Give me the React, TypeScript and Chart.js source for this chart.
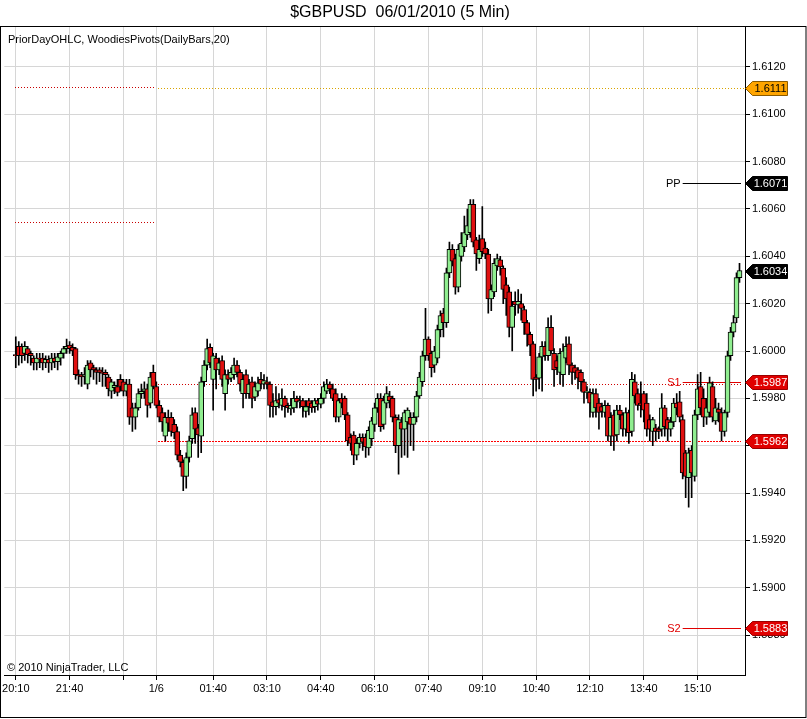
import { useEffect, useRef } from 'react';
import { Chart, registerables } from 'chart.js';

Chart.register(...registerables);

// ---- data (5-minute GBPUSD bars, 20:10 -> 16:15) ----
const opens = [
  1.59985, 1.6002, 1.6002, 1.5999, 1.6001, 1.5999, 1.5997, 1.5995, 1.5997, 1.5997,
  1.5995, 1.59965, 1.5995, 1.5997, 1.59955, 1.5997, 1.5999, 1.6001, 1.60025, 1.60015,
  1.6001, 1.599, 1.599, 1.59895, 1.5986, 1.5995, 1.5993, 1.5992, 1.5992, 1.5991,
  1.5991, 1.5989, 1.5983, 1.59845, 1.5985, 1.5988, 1.5987, 1.5983, 1.5986, 1.5976,
  1.5972, 1.5976, 1.5982, 1.5983, 1.5984, 1.5978, 1.5991, 1.5985, 1.5977, 1.5974,
  1.5964, 1.5972, 1.5972, 1.5969, 1.5966, 1.5956, 1.5953, 1.5947, 1.5955, 1.5963,
  1.5974, 1.59675, 1.5964, 1.5987, 1.5994, 1.60015, 1.5988, 1.5997, 1.5992, 1.5996,
  1.5982, 1.599, 1.59885, 1.599, 1.5994, 1.5991, 1.5982, 1.599, 1.5982, 1.5987,
  1.59805, 1.5983, 1.5988, 1.5986, 1.5987, 1.5986, 1.59785, 1.59765, 1.59795, 1.5977,
  1.598, 1.5977, 1.59755, 1.5976, 1.598, 1.59785, 1.5979, 1.59745, 1.5979, 1.5978,
  1.59765, 1.5979, 1.59775, 1.598, 1.5983, 1.5986, 1.5984, 1.5982, 1.5972, 1.598,
  1.598, 1.5973, 1.59635, 1.59645, 1.5956, 1.5961, 1.59635, 1.59635, 1.5959, 1.5963,
  1.5969, 1.5976, 1.598, 1.5969, 1.5978, 1.5981, 1.598, 1.5972, 1.596, 1.597,
  1.5967, 1.597, 1.5972, 1.5969, 1.5972, 1.5981, 1.5987, 1.5998, 1.6005, 1.5999,
  1.5994, 1.5997, 1.6009, 1.6016, 1.6012, 1.6033, 1.6043, 1.6039, 1.6027, 1.604,
  1.6044, 1.6049, 1.605, 1.6062, 1.6047, 1.6039, 1.60475, 1.60435, 1.6041, 1.6022,
  1.6025, 1.6036, 1.60385, 1.6035, 1.6028, 1.6025, 1.601, 1.6021, 1.60195, 1.602,
  1.60175, 1.6012, 1.6007, 1.6003, 1.5989, 1.59885, 1.59975, 1.6002, 1.5998, 1.601,
  1.5999, 1.5996, 1.5991, 1.599, 1.5997, 1.6003, 1.5994, 1.5993, 1.5992, 1.5991,
  1.5987, 1.59825, 1.59825, 1.5974, 1.5982, 1.5978, 1.59765, 1.5974, 1.5977, 1.5964,
  1.5973, 1.59645, 1.5975, 1.5973, 1.5967, 1.5974, 1.5966, 1.5987, 1.5982, 1.5978,
  1.5982, 1.5978, 1.5971, 1.5966, 1.59675, 1.5967, 1.5967, 1.5976, 1.5971, 1.5967,
  1.597, 1.5978, 1.59785, 1.5971, 1.5957, 1.59465, 1.5958, 1.5947, 1.5973, 1.5985,
  1.598, 1.5972, 1.5974, 1.5985, 1.59705, 1.59755, 1.5974, 1.5966, 1.5974, 1.5998,
  1.6008, 1.6014, 1.6031,
];

const highs = [
  1.6006, 1.6004, 1.6003, 1.6004, 1.6002, 1.6, 1.5998, 1.5999, 1.5999, 1.5999,
  1.5998, 1.5998, 1.5999, 1.5999, 1.5999, 1.6, 1.6002, 1.6005, 1.6004, 1.6003,
  1.60015, 1.5992, 1.5991, 1.5993, 1.5996, 1.5996, 1.5994, 1.5993, 1.5993, 1.5993,
  1.5992, 1.599, 1.5988, 1.5987, 1.5988, 1.599, 1.5988, 1.5988, 1.5988, 1.5978,
  1.5978, 1.5984, 1.5986, 1.5987, 1.5986, 1.5991, 1.5994, 1.5987, 1.5979, 1.5976,
  1.5974, 1.5975, 1.5974, 1.5971, 1.5968, 1.5958, 1.5954, 1.5957, 1.5964, 1.5976,
  1.5976, 1.5969, 1.5989, 1.5996, 1.6005, 1.6003, 1.5999, 1.5999, 1.5997, 1.5998,
  1.5992, 1.5992, 1.5993, 1.5997, 1.5996, 1.5992, 1.599, 1.5992, 1.5988, 1.5989,
  1.5987, 1.5989, 1.5991, 1.599, 1.5989, 1.5987, 1.5982, 1.5985, 1.5982, 1.5984,
  1.5981, 1.5978, 1.598, 1.5983, 1.5981, 1.5981, 1.598, 1.5979, 1.598, 1.5979,
  1.598, 1.598, 1.5982, 1.5987, 1.5988, 1.5987, 1.5986, 1.5984, 1.598, 1.5982,
  1.5981, 1.5974, 1.5965, 1.5966, 1.5963, 1.5965, 1.5965, 1.5965, 1.5968, 1.5972,
  1.5978, 1.5982, 1.5982, 1.5981, 1.5985, 1.5983, 1.5981, 1.5973, 1.5973, 1.5972,
  1.5975, 1.5976, 1.5974, 1.5974, 1.5983, 1.5991, 1.6, 1.6018, 1.6006, 1.6,
  1.6002, 1.6011, 1.6017, 1.6018, 1.6035, 1.6046, 1.6045, 1.6041, 1.6045, 1.605,
  1.6057, 1.606, 1.6064, 1.6064, 1.6048, 1.6049, 1.6061, 1.6046, 1.6043, 1.6028,
  1.6039, 1.6041, 1.604, 1.6036, 1.6031, 1.6027, 1.6021, 1.6025, 1.6026, 1.6024,
  1.6019, 1.6013, 1.6008, 1.6004, 1.599, 1.5999, 1.6004, 1.6004, 1.6014, 1.6015,
  1.6001, 1.5998, 1.6001, 1.6003, 1.6006, 1.6006, 1.5995, 1.5994, 1.5993, 1.5992,
  1.5988, 1.5985, 1.5984, 1.5984, 1.5984, 1.598, 1.5978, 1.5979, 1.5978, 1.5974,
  1.5975, 1.5977, 1.5977, 1.5974, 1.5976, 1.5975, 1.5991, 1.599, 1.5984, 1.5987,
  1.5983, 1.5982, 1.5973, 1.5972, 1.5969, 1.5968, 1.5982, 1.5977, 1.5972, 1.5972,
  1.598, 1.5982, 1.5983, 1.5973, 1.5958, 1.5959, 1.596, 1.5975, 1.599, 1.5991,
  1.5984, 1.598, 1.5989, 1.5987, 1.598, 1.5978, 1.5976, 1.5975, 1.6, 1.601,
  1.6015, 1.6033, 1.6037,
];

const lows = [
  1.5993, 1.5994, 1.5995, 1.5996, 1.5995, 1.5994, 1.5992, 1.5992, 1.5993, 1.5992,
  1.5993, 1.5991, 1.5992, 1.5993, 1.5992, 1.5994, 1.5997, 1.5999, 1.5999, 1.5998,
  1.5988, 1.5986, 1.5985, 1.5986, 1.5984, 1.5989, 1.5988, 1.5986, 1.5987, 1.5985,
  1.5985, 1.5981, 1.598, 1.5982, 1.5981, 1.5983, 1.5981, 1.5981, 1.5969, 1.5966,
  1.5967, 1.5975, 1.598, 1.598, 1.5972, 1.5976, 1.5984, 1.5976, 1.597, 1.5966,
  1.5962, 1.5966, 1.5964, 1.5963, 1.5954, 1.5951, 1.5941, 1.5942, 1.5953, 1.5961,
  1.5961, 1.5955, 1.5957, 1.5985, 1.5992, 1.5993, 1.5975, 1.5984, 1.599, 1.5985,
  1.5975, 1.5986, 1.5987, 1.5988, 1.5989, 1.5983, 1.5976, 1.598, 1.598, 1.5976,
  1.5979, 1.5981, 1.5984, 1.5984, 1.5984, 1.5972, 1.5972, 1.5973, 1.5976, 1.5975,
  1.5972, 1.5974, 1.5973, 1.5974, 1.5976, 1.5976, 1.5972, 1.5972, 1.5973, 1.5974,
  1.5974, 1.5975, 1.5976, 1.5978, 1.5982, 1.5982, 1.5979, 1.597, 1.597, 1.5976,
  1.5971, 1.596, 1.5958, 1.5952, 1.5954, 1.5959, 1.5958, 1.5955, 1.5956, 1.596,
  1.5966, 1.5974, 1.5966, 1.5967, 1.5976, 1.5976, 1.597, 1.5957, 1.5948, 1.5955,
  1.5956, 1.5955, 1.596, 1.5958, 1.597, 1.598, 1.5985, 1.5996, 1.5996, 1.5989,
  1.5991, 1.5995, 1.6006, 1.6006, 1.601, 1.6031, 1.6036, 1.6024, 1.6025, 1.6038,
  1.6042, 1.6047, 1.6048, 1.6044, 1.6034, 1.6037, 1.604, 1.6039, 1.6016, 1.6017,
  1.6023, 1.6034, 1.6032, 1.602, 1.6015, 1.6006, 1.6, 1.6015, 1.6016, 1.6013,
  1.6007, 1.6002, 1.5998, 1.5981, 1.5983, 1.5984, 1.5983, 1.5996, 1.5996, 1.5999,
  1.5985, 1.599, 1.5986, 1.5985, 1.5995, 1.599, 1.5986, 1.5988, 1.5984, 1.5983,
  1.5978, 1.598, 1.5972, 1.5972, 1.5972, 1.5967, 1.5972, 1.5972, 1.5962, 1.596,
  1.5958, 1.5962, 1.5971, 1.5964, 1.5964, 1.5961, 1.5964, 1.5978, 1.5975, 1.5972,
  1.597, 1.5964, 1.5962, 1.596, 1.5962, 1.5963, 1.5964, 1.5964, 1.5962, 1.5964,
  1.5968, 1.5973, 1.597, 1.5946, 1.5938, 1.5934, 1.5938, 1.5945, 1.5971, 1.5973,
  1.5968, 1.5969, 1.5972, 1.597, 1.5969, 1.597, 1.5962, 1.5964, 1.5972, 1.5996,
  1.6006, 1.6012, 1.6029,
];

const closes = [
  1.5998, 1.5998, 1.5998, 1.6002, 1.59985, 1.5998, 1.5995, 1.5997, 1.59965, 1.5995,
  1.59965, 1.5995, 1.5997, 1.59955, 1.59975, 1.5999, 1.6001, 1.6002, 1.6001, 1.6,
  1.599, 1.59895, 1.5989, 1.599, 1.5994, 1.5992, 1.5992, 1.5991, 1.5991, 1.59905,
  1.599, 1.5984, 1.5987, 1.59855, 1.59825, 1.5985, 1.5983, 1.5986, 1.5972, 1.5972,
  1.5976, 1.5982, 1.5983, 1.5984, 1.5977, 1.5989, 1.5985, 1.5977, 1.5972, 1.597,
  1.5972, 1.59695, 1.5966, 1.59655, 1.5956, 1.5953, 1.5947, 1.5955, 1.5962, 1.5973,
  1.5967, 1.59645, 1.5987, 1.5994, 1.6001, 1.5995, 1.5998, 1.5992, 1.5995, 1.5988,
  1.599, 1.5988, 1.5991, 1.5994, 1.5991, 1.5986, 1.5988, 1.5982, 1.5986, 1.598,
  1.5985, 1.59865, 1.5986, 1.59875, 1.5986, 1.5977, 1.59765, 1.5979, 1.5978, 1.598,
  1.59765, 1.5976, 1.5977, 1.598, 1.59785, 1.5979, 1.59765, 1.59765, 1.59765, 1.5976,
  1.5979, 1.59775, 1.598, 1.5985, 1.5986, 1.5984, 1.598, 1.5972, 1.5979, 1.5978,
  1.5973, 1.5962, 1.5961, 1.5956, 1.5961, 1.59635, 1.59615, 1.59595, 1.59665, 1.59705,
  1.5976, 1.598, 1.5968, 1.5979, 1.5982, 1.5979, 1.5972, 1.596, 1.5971, 1.5967,
  1.5974, 1.5975, 1.5969, 1.5972, 1.5981, 1.5989, 1.5998, 1.6005, 1.5998, 1.5993,
  1.6, 1.6009, 1.6015, 1.6012, 1.6033, 1.6043, 1.6038, 1.6027, 1.6043, 1.60455,
  1.605, 1.6053, 1.6062, 1.6046, 1.6041, 1.6043, 1.6042, 1.6041, 1.6022, 1.6026,
  1.6037, 1.6039, 1.60355, 1.6026, 1.6022, 1.601, 1.6019, 1.60195, 1.6021, 1.6018,
  1.6012, 1.6007, 1.60025, 1.5988, 1.5988, 1.59975, 1.6002, 1.5998, 1.601, 1.6,
  1.5992, 1.5993, 1.5999, 1.6, 1.6002, 1.5994, 1.5991, 1.5991, 1.59885, 1.5987,
  1.59825, 1.5983, 1.5978, 1.5982, 1.5976, 1.5974, 1.59745, 1.5977, 1.5964, 1.5972,
  1.5964, 1.5975, 1.5973, 1.5967, 1.5974, 1.59655, 1.5988, 1.5981, 1.5977, 1.5977,
  1.5975, 1.5967, 1.5967, 1.5971, 1.5966, 1.5966, 1.5976, 1.5968, 1.5967, 1.597,
  1.5978, 1.5976, 1.5972, 1.59485, 1.5947, 1.5957, 1.59485, 1.5973, 1.5984, 1.5976,
  1.5972, 1.5976, 1.59865, 1.5972, 1.5976, 1.5974, 1.5966, 1.5974, 1.5998, 1.6008,
  1.6012, 1.6031, 1.6034,
];

// x-axis ticks: bar index and label
const timeTickBars = [0, 18, 36, 47, 66, 84, 102, 120, 138, 156, 174, 192, 210, 228];
const timeTickLabels = ['20:10', '21:40', '', '1/6', '01:40', '03:10', '04:40', '06:10', '07:40', '09:10', '10:40', '12:10', '13:40', '15:10'];

// y-axis ticks
const priceTicks = [1.588, 1.59, 1.592, 1.594, 1.596, 1.598, 1.6, 1.602, 1.604, 1.606, 1.608, 1.61, 1.612];

// session levels (prior day / current day)
const levelPrices = [1.61115, 1.60545, 1.6111, 1.5986, 1.5962];
const levelFromBar = [-0.2, -0.2, 47.4, 47.4, 47.4];
const levelToBar = [46.4, 46.4, 243.8, 242.5, 242.5];

// Woodies pivots
const pivotNames = ['PP', 'S1', 'S2'];
const pivotPrices = [1.6071, 1.5987, 1.5883];
const pivotFromBar = 223;
const pivotToBar = 242.5;

// price flags on the axis
const flagPrices = [1.6111, 1.6071, 1.6034, 1.5987, 1.5962, 1.5883];
const flagKinds = ['orange', 'black', 'black', 'red', 'red', 'red'];

const FONT = '"Liberation Sans", Arial, sans-serif';
const UP = '#90ee90';
const DOWN = '#e01010';
const RED = '#e00000';

const levelColors = ['#c80000', '#c80000', '#d9a400', '#d00000', '#ff0000'];
const levelDashes = [[1, 2], [1, 2], [1, 2], [1, 2], [2, 1]];

const overlay = {
  id: 'overlay',
  beforeDatasetsDraw(chart: any) {
    const { ctx, chartArea: a, scales } = chart;
    const x = scales.x;
    const y = scales.y;
    ctx.save();
    ctx.beginPath();
    ctx.rect(a.left, a.top, a.right - a.left, a.bottom - a.top);
    ctx.clip();
    ctx.lineWidth = 1;
    levelPrices.forEach((p, i) => {
      const py = Math.round(y.getPixelForValue(p)) + 0.5;
      ctx.strokeStyle = levelColors[i];
      ctx.setLineDash(levelDashes[i]);
      ctx.beginPath();
      ctx.moveTo(Math.round(x.getPixelForValue(levelFromBar[i])), py);
      ctx.lineTo(Math.round(x.getPixelForValue(levelToBar[i])), py);
      ctx.stroke();
    });
    ctx.setLineDash([]);
    // pivot lines
    pivotPrices.forEach((p, i) => {
      const py = Math.round(y.getPixelForValue(p)) + 0.5;
      const col = pivotNames[i] === 'PP' ? '#000' : RED;
      ctx.strokeStyle = col;
      ctx.beginPath();
      const x0 = x.getPixelForValue(pivotFromBar);
      ctx.moveTo(x0, py);
      ctx.lineTo(x.getPixelForValue(pivotToBar), py);
      ctx.stroke();
      ctx.fillStyle = col;
      ctx.font = `11px ${FONT}`;
      ctx.textAlign = 'right';
      ctx.textBaseline = 'middle';
      ctx.fillText(pivotNames[i], x0 - 2, py);
    });
    ctx.restore();
  },
  afterDraw(chart: any) {
    const { ctx, chartArea: a, scales } = chart;
    const y = scales.y;
    ctx.save();
    // title
    ctx.fillStyle = '#000';
    ctx.font = `16px ${FONT}`;
    ctx.textAlign = 'center';
    ctx.textBaseline = 'middle';
    ctx.fillText('$GBPUSD  06/01/2010 (5 Min)', 400, 13);
    // indicator label and copyright
    ctx.font = `11px ${FONT}`;
    ctx.textAlign = 'left';
    ctx.fillText('PriorDayOHLC, WoodiesPivots(DailyBars,20)', 8, 40);
    ctx.fillText('\u00a9 2010 NinjaTrader, LLC', 7, 668);
    // outer frame
    ctx.strokeStyle = '#000';
    ctx.lineWidth = 1;
    ctx.strokeRect(0.5, a.top - 0.5, 805.5, 718 - a.top);
    // flags
    flagPrices.forEach((p, i) => {
      const py = Math.round(y.getPixelForValue(p)) + 0.5;
      const kind = flagKinds[i];
      const fill = kind === 'orange' ? '#ffa500' : kind === 'black' ? '#000' : RED;
      const edge = kind === 'orange' ? '#8a5a00' : kind === 'black' ? '#000' : '#900';
      const tip = a.right + 0.5;
      ctx.beginPath();
      ctx.moveTo(tip, py);
      ctx.lineTo(tip + 7, py - 7);
      ctx.lineTo(tip + 42, py - 7);
      ctx.lineTo(tip + 42, py + 7);
      ctx.lineTo(tip + 7, py + 7);
      ctx.closePath();
      ctx.fillStyle = fill;
      ctx.fill();
      ctx.strokeStyle = edge;
      ctx.stroke();
      ctx.fillStyle = kind === 'orange' ? '#000' : '#fff';
      ctx.font = `11px ${FONT}`;
      ctx.textAlign = 'center';
      ctx.textBaseline = 'middle';
      ctx.fillText(p.toFixed(4), tip + 25, py + 0.5);
    });
    ctx.restore();
  },
};

export default function App() {
  const ref = useRef<HTMLCanvasElement | null>(null);

  useEffect(() => {
    document.body.style.margin = '0';
    const canvas = ref.current;
    if (!canvas) return;
    const bodies = opens.map((o, i) => ({ x: i, y: [o, closes[i]] }));
    const wicks = highs.map((h, i) => ({ x: i, y: [lows[i], h] }));
    const chart = new Chart(canvas, {
      type: 'bar',
      data: {
        datasets: [
          {
            label: 'body',
            data: bodies as any,
            backgroundColor: opens.map((o, i) => (closes[i] >= o ? UP : DOWN)),
            borderColor: '#000',
            borderWidth: 1,
            borderSkipped: false,
            barThickness: 5,
            grouped: false,
            order: 1,
          } as any,
          {
            label: 'wick',
            data: wicks as any,
            backgroundColor: '#000',
            borderWidth: 0,
            barThickness: 1,
            grouped: false,
            order: 2,
          } as any,
        ],
      },
      options: {
        animation: false,
        responsive: false,
        layout: { padding: { top: 27, left: 1, right: 1, bottom: 1 } },
        plugins: {
          legend: { display: false },
          tooltip: { enabled: false },
          title: { display: false },
        },
        scales: {
          x: {
            type: 'linear',
            min: -3.828,
            max: 243.84,
            offset: false,
            bounds: 'data',
            grid: { offset: false, color: '#d6d6d6', tickColor: '#000', tickLength: 5, drawTicks: true },
            border: { display: true, color: '#000' },
            ticks: {
              autoSkip: false,
              maxRotation: 0,
              minRotation: 0,
              padding: 2,
              color: '#000',
              font: { family: FONT, size: 11 },
              callback: (_v: any, i: number) => timeTickLabels[i] ?? '',
            },
            afterBuildTicks: (s: any) => {
              s.ticks = timeTickBars.map((v) => ({ value: v }));
            },
            afterFit: (s: any) => {
              s.height = 43;
            },
          },
          y: {
            type: 'linear',
            position: 'right',
            min: 1.58631,
            max: 1.61369,
            bounds: 'data',
            grid: { color: '#d6d6d6', tickColor: '#000', tickLength: 5, drawTicks: true },
            border: { display: true, color: '#000' },
            ticks: {
              autoSkip: false,
              padding: 2,
              color: '#000',
              font: { family: FONT, size: 11 },
              callback: (v: any) => Number(v).toFixed(4),
            },
            afterBuildTicks: (s: any) => {
              s.ticks = priceTicks.map((v) => ({ value: v }));
            },
            afterFit: (s: any) => {
              s.width = 61;
            },
          },
        },
      } as any,
      plugins: [overlay],
    });
    return () => chart.destroy();
  }, []);

  return (
    <div style={{ width: 807, height: 719, background: '#fff' }}>
      <canvas ref={ref} width={807} height={719} style={{ display: 'block' }} />
    </div>
  );
}
